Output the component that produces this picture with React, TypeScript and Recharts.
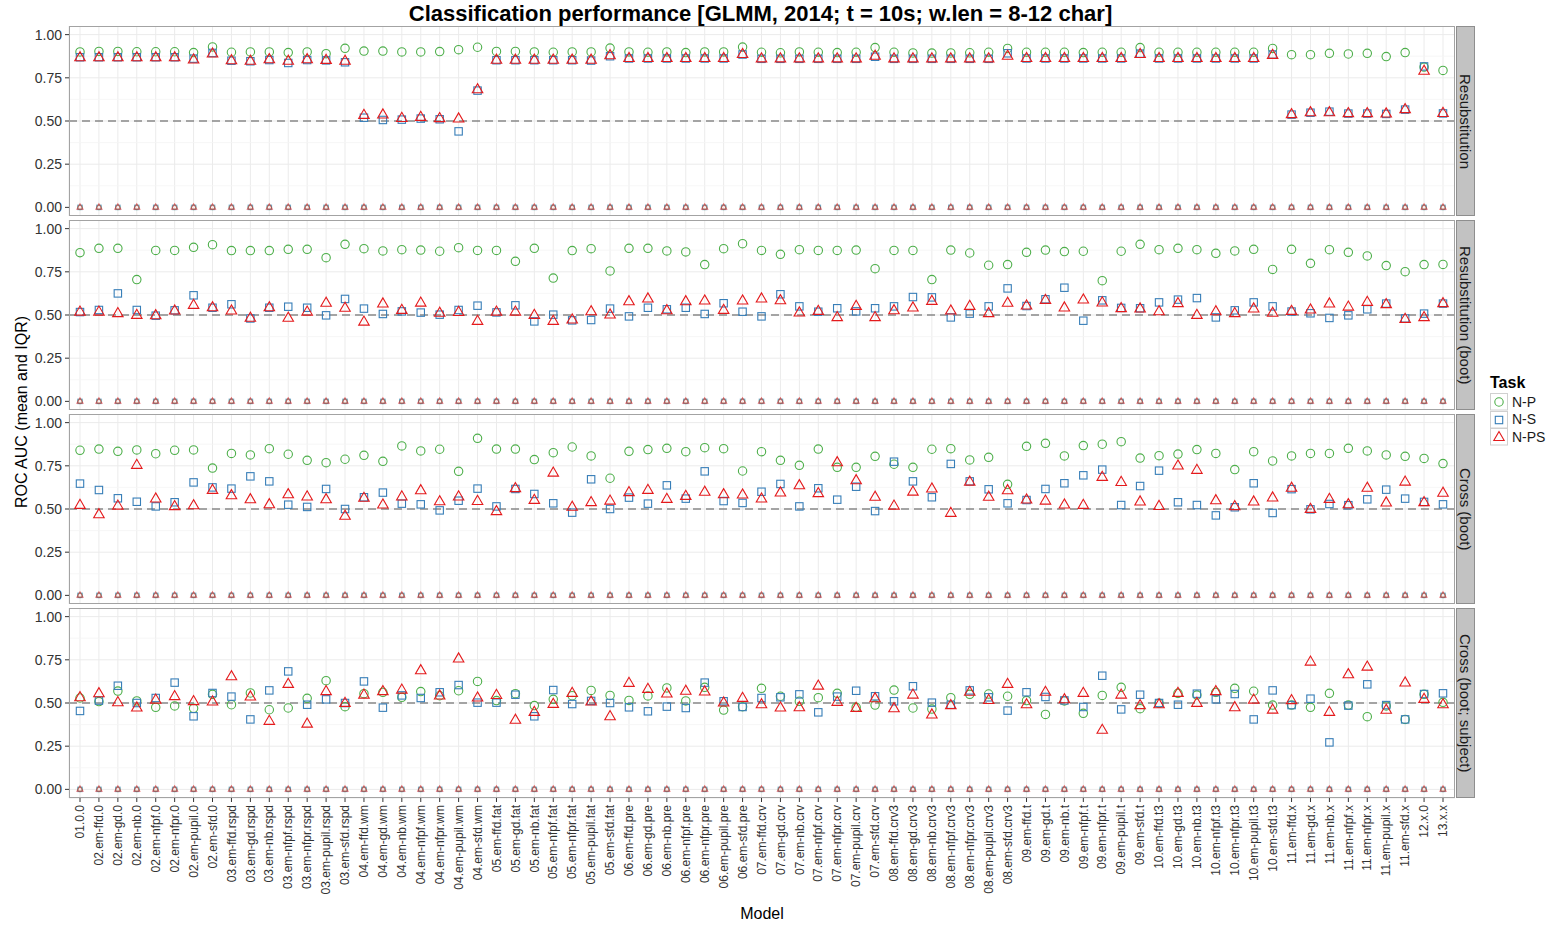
import { ComposedChart, Scatter, XAxis, YAxis, CartesianGrid, ReferenceLine } from "recharts";

const MODELS = [
  "01.0.0",
  "02.em-ffd.0", "02.em-gd.0", "02.em-nb.0", "02.em-nfpf.0", "02.em-nfpr.0", "02.em-pupil.0", "02.em-sfd.0",
  "03.em-ffd.rspd", "03.em-gd.rspd", "03.em-nb.rspd", "03.em-nfpf.rspd", "03.em-nfpr.rspd", "03.em-pupil.rspd", "03.em-sfd.rspd",
  "04.em-ffd.wm", "04.em-gd.wm", "04.em-nb.wm", "04.em-nfpf.wm", "04.em-nfpr.wm", "04.em-pupil.wm", "04.em-sfd.wm",
  "05.em-ffd.fat", "05.em-gd.fat", "05.em-nb.fat", "05.em-nfpf.fat", "05.em-nfpr.fat", "05.em-pupil.fat", "05.em-sfd.fat",
  "06.em-ffd.pre", "06.em-gd.pre", "06.em-nb.pre", "06.em-nfpf.pre", "06.em-nfpr.pre", "06.em-pupil.pre", "06.em-sfd.pre",
  "07.em-ffd.crv", "07.em-gd.crv", "07.em-nb.crv", "07.em-nfpf.crv", "07.em-nfpr.crv", "07.em-pupil.crv", "07.em-sfd.crv",
  "08.em-ffd.crv3", "08.em-gd.crv3", "08.em-nb.crv3", "08.em-nfpf.crv3", "08.em-nfpr.crv3", "08.em-pupil.crv3", "08.em-sfd.crv3",
  "09.em-ffd.t", "09.em-gd.t", "09.em-nb.t", "09.em-nfpf.t", "09.em-nfpr.t", "09.em-pupil.t", "09.em-sfd.t",
  "10.em-ffd.t3", "10.em-gd.t3", "10.em-nb.t3", "10.em-nfpf.t3", "10.em-nfpr.t3", "10.em-pupil.t3", "10.em-sfd.t3",
  "11.em-ffd.x", "11.em-gd.x", "11.em-nb.x", "11.em-nfpf.x", "11.em-nfpr.x", "11.em-pupil.x", "11.em-sfd.x",
  "12.x.0", "13.x.x",
];

// IQR markers all sit at zero
const IQR = [
  0, 0, 0, 0, 0, 0, 0, 0, 0, 0, 0, 0, 0, 0, 0, 0, 0, 0, 0, 0, 0, 0, 0, 0, 0, 0, 0, 0, 0, 0, 0, 0, 0, 0, 0, 0, 0,
  0, 0, 0, 0, 0, 0, 0, 0, 0, 0, 0, 0, 0, 0, 0, 0, 0, 0, 0, 0, 0, 0, 0, 0, 0, 0, 0, 0, 0, 0, 0, 0, 0, 0, 0, 0,
];

const RESUB_NP = [
  0.900, 0.903, 0.903, 0.901, 0.901, 0.901, 0.896, 0.929, 0.898, 0.900,
  0.900, 0.896, 0.900, 0.890, 0.921, 0.905, 0.905, 0.900, 0.900, 0.902,
  0.913, 0.927, 0.903, 0.903, 0.900, 0.898, 0.900, 0.900, 0.922, 0.900,
  0.898, 0.900, 0.896, 0.900, 0.900, 0.928, 0.898, 0.895, 0.900, 0.898,
  0.896, 0.898, 0.925, 0.898, 0.894, 0.893, 0.894, 0.895, 0.898, 0.920,
  0.898, 0.898, 0.898, 0.896, 0.898, 0.898, 0.925, 0.898, 0.898, 0.898,
  0.898, 0.898, 0.898, 0.920, 0.884, 0.884, 0.892, 0.888, 0.892, 0.873,
  0.896, 0.812, 0.793,
];
const RESUB_NS = [
  0.869, 0.869, 0.869, 0.869, 0.869, 0.869, 0.861, 0.894, 0.849, 0.846,
  0.853, 0.836, 0.853, 0.851, 0.840, 0.519, 0.506, 0.508, 0.514, 0.510,
  0.440, 0.676, 0.852, 0.852, 0.852, 0.852, 0.852, 0.850, 0.875, 0.862,
  0.862, 0.862, 0.862, 0.862, 0.862, 0.885, 0.860, 0.860, 0.860, 0.860,
  0.860, 0.860, 0.872, 0.860, 0.860, 0.860, 0.860, 0.860, 0.860, 0.892,
  0.862, 0.862, 0.862, 0.862, 0.862, 0.862, 0.890, 0.862, 0.862, 0.862,
  0.862, 0.862, 0.862, 0.885, 0.537, 0.548, 0.554, 0.543, 0.543, 0.541,
  0.566, 0.816, 0.544,
];
const RESUB_NPS = [
  0.866, 0.866, 0.866, 0.866, 0.866, 0.866, 0.853, 0.888, 0.849, 0.846,
  0.855, 0.846, 0.855, 0.851, 0.846, 0.533, 0.535, 0.515, 0.521, 0.514,
  0.512, 0.681, 0.852, 0.852, 0.852, 0.852, 0.852, 0.852, 0.878, 0.862,
  0.862, 0.862, 0.862, 0.862, 0.862, 0.885, 0.860, 0.860, 0.860, 0.860,
  0.860, 0.860, 0.875, 0.860, 0.860, 0.860, 0.860, 0.860, 0.860, 0.875,
  0.862, 0.862, 0.862, 0.862, 0.862, 0.862, 0.885, 0.862, 0.862, 0.862,
  0.862, 0.862, 0.862, 0.880, 0.537, 0.548, 0.548, 0.543, 0.543, 0.541,
  0.566, 0.788, 0.544,
];

const BOOT_NP = [
  0.861, 0.886, 0.886, 0.705, 0.874, 0.874, 0.892, 0.907, 0.873, 0.873,
  0.873, 0.880, 0.880, 0.832, 0.909, 0.884, 0.871, 0.878, 0.876, 0.869,
  0.890, 0.874, 0.874, 0.811, 0.886, 0.714, 0.873, 0.884, 0.755, 0.886,
  0.886, 0.871, 0.865, 0.792, 0.884, 0.913, 0.874, 0.851, 0.878, 0.874,
  0.874, 0.876, 0.768, 0.874, 0.874, 0.705, 0.876, 0.859, 0.788, 0.792,
  0.863, 0.876, 0.867, 0.869, 0.699, 0.869, 0.909, 0.878, 0.886, 0.878,
  0.857, 0.871, 0.880, 0.764, 0.880, 0.799, 0.878, 0.863, 0.842, 0.786,
  0.751, 0.792, 0.793,
];
const BOOT_NS = [
  0.517, 0.529, 0.625, 0.529, 0.496, 0.527, 0.614, 0.542, 0.562, 0.480,
  0.542, 0.548, 0.542, 0.498, 0.593, 0.537, 0.506, 0.521, 0.514, 0.502,
  0.529, 0.554, 0.515, 0.556, 0.463, 0.502, 0.469, 0.471, 0.537, 0.492,
  0.542, 0.533, 0.542, 0.506, 0.568, 0.519, 0.492, 0.620, 0.550, 0.519,
  0.539, 0.521, 0.539, 0.550, 0.604, 0.602, 0.486, 0.508, 0.550, 0.654,
  0.552, 0.591, 0.658, 0.467, 0.585, 0.541, 0.539, 0.573, 0.589, 0.598,
  0.486, 0.527, 0.573, 0.550, 0.520, 0.510, 0.483, 0.498, 0.533, 0.566,
  0.480, 0.508, 0.566,
];
const BOOT_NPS = [
  0.517, 0.517, 0.508, 0.498, 0.496, 0.523, 0.556, 0.542, 0.523, 0.481,
  0.542, 0.481, 0.517, 0.568, 0.539, 0.459, 0.564, 0.527, 0.569, 0.510,
  0.515, 0.463, 0.517, 0.517, 0.498, 0.463, 0.471, 0.519, 0.500, 0.577,
  0.593, 0.525, 0.577, 0.581, 0.527, 0.581, 0.593, 0.583, 0.512, 0.521,
  0.485, 0.550, 0.485, 0.525, 0.541, 0.579, 0.523, 0.550, 0.508, 0.568,
  0.552, 0.585, 0.541, 0.587, 0.570, 0.537, 0.535, 0.519, 0.566, 0.498,
  0.519, 0.508, 0.535, 0.510, 0.521, 0.529, 0.564, 0.546, 0.573, 0.560,
  0.475, 0.485, 0.566,
];

const CROSS_NP = [
  0.840, 0.847, 0.834, 0.842, 0.820, 0.840, 0.842, 0.737, 0.822, 0.813,
  0.849, 0.817, 0.782, 0.768, 0.788, 0.811, 0.776, 0.865, 0.836, 0.846,
  0.718, 0.909, 0.847, 0.847, 0.786, 0.826, 0.859, 0.807, 0.678, 0.834,
  0.844, 0.851, 0.832, 0.855, 0.849, 0.720, 0.832, 0.782, 0.753, 0.847,
  0.741, 0.741, 0.805, 0.759, 0.741, 0.846, 0.849, 0.784, 0.799, 0.643,
  0.863, 0.880, 0.807, 0.867, 0.875, 0.890, 0.795, 0.809, 0.818, 0.844,
  0.822, 0.728, 0.832, 0.778, 0.807, 0.822, 0.822, 0.851, 0.836, 0.813,
  0.805, 0.793, 0.763,
];
const CROSS_NS = [
  0.647, 0.610, 0.562, 0.542, 0.515, 0.539, 0.654, 0.625, 0.618, 0.689,
  0.660, 0.525, 0.512, 0.616, 0.500, 0.568, 0.595, 0.531, 0.527, 0.492,
  0.548, 0.618, 0.515, 0.616, 0.587, 0.533, 0.479, 0.672, 0.500, 0.566,
  0.531, 0.637, 0.560, 0.718, 0.546, 0.535, 0.600, 0.645, 0.515, 0.620,
  0.554, 0.629, 0.488, 0.774, 0.660, 0.568, 0.761, 0.660, 0.614, 0.533,
  0.552, 0.616, 0.649, 0.695, 0.728, 0.523, 0.633, 0.722, 0.539, 0.523,
  0.463, 0.510, 0.649, 0.477, 0.615, 0.498, 0.529, 0.522, 0.556, 0.612,
  0.560, 0.541, 0.527,
];
const CROSS_NPS = [
  0.521, 0.467, 0.517, 0.753, 0.558, 0.514, 0.519, 0.608, 0.577, 0.554,
  0.525, 0.583, 0.570, 0.554, 0.458, 0.562, 0.523, 0.570, 0.606, 0.542,
  0.570, 0.544, 0.485, 0.618, 0.550, 0.708, 0.510, 0.537, 0.546, 0.595,
  0.608, 0.556, 0.573, 0.597, 0.583, 0.581, 0.558, 0.593, 0.635, 0.589,
  0.768, 0.664, 0.568, 0.517, 0.598, 0.616, 0.475, 0.656, 0.568, 0.606,
  0.552, 0.546, 0.523, 0.521, 0.683, 0.654, 0.541, 0.515, 0.749, 0.724,
  0.548, 0.514, 0.541, 0.564, 0.620, 0.498, 0.556, 0.525, 0.620, 0.535,
  0.656, 0.537, 0.591,
];

const SUBJ_NP = [
  0.529, 0.508, 0.569, 0.512, 0.475, 0.483, 0.469, 0.550, 0.490, 0.558,
  0.461, 0.471, 0.527, 0.629, 0.479, 0.554, 0.562, 0.533, 0.566, 0.542,
  0.571, 0.625, 0.514, 0.554, 0.485, 0.521, 0.542, 0.573, 0.544, 0.515,
  0.541, 0.587, 0.512, 0.591, 0.459, 0.479, 0.585, 0.539, 0.510, 0.531,
  0.556, 0.475, 0.488, 0.575, 0.471, 0.465, 0.531, 0.550, 0.552, 0.539,
  0.514, 0.434, 0.512, 0.440, 0.544, 0.591, 0.467, 0.498, 0.556, 0.546,
  0.562, 0.585, 0.568, 0.488, 0.488, 0.475, 0.556, 0.488, 0.421, 0.483,
  0.405, 0.550, 0.504,
];
const SUBJ_NS = [
  0.454, 0.514, 0.600, 0.500, 0.529, 0.618, 0.423, 0.558, 0.537, 0.405,
  0.573, 0.683, 0.490, 0.521, 0.500, 0.625, 0.473, 0.544, 0.529, 0.562,
  0.604, 0.502, 0.502, 0.548, 0.423, 0.575, 0.494, 0.512, 0.500, 0.475,
  0.452, 0.479, 0.471, 0.618, 0.510, 0.477, 0.529, 0.533, 0.550, 0.446,
  0.537, 0.571, 0.539, 0.510, 0.597, 0.502, 0.490, 0.573, 0.533, 0.456,
  0.562, 0.535, 0.515, 0.477, 0.658, 0.463, 0.548, 0.500, 0.490, 0.554,
  0.521, 0.552, 0.405, 0.573, 0.488, 0.525, 0.272, 0.485, 0.608, 0.488,
  0.405, 0.552, 0.556,
];
const SUBJ_NPS = [
  0.531, 0.554, 0.502, 0.471, 0.517, 0.537, 0.508, 0.506, 0.652, 0.535,
  0.394, 0.608, 0.378, 0.566, 0.498, 0.546, 0.566, 0.575, 0.687, 0.541,
  0.755, 0.529, 0.544, 0.400, 0.446, 0.492, 0.556, 0.506, 0.421, 0.614,
  0.579, 0.552, 0.568, 0.564, 0.500, 0.527, 0.490, 0.471, 0.473, 0.598,
  0.504, 0.469, 0.525, 0.467, 0.546, 0.431, 0.485, 0.562, 0.515, 0.608,
  0.490, 0.562, 0.519, 0.556, 0.342, 0.546, 0.485, 0.490, 0.556, 0.498,
  0.566, 0.473, 0.517, 0.459, 0.514, 0.737, 0.446, 0.664, 0.708, 0.458,
  0.616, 0.521, 0.490,
];

const Y_TICKS = [0, 0.25, 0.5, 0.75, 1];
const Y_MINOR = [0.125, 0.375, 0.625, 0.875];

const GREEN = "#4DAF4A";
const BLUE = "#377EB8";
const RED = "#E41A1C";
const FONT = "'Liberation Sans', Arial, Helvetica, sans-serif";

const PANELS = [
  { label: "Resubstitution", np: RESUB_NP, ns: RESUB_NS, nps: RESUB_NPS },
  { label: "Resubstitution (boot)", np: BOOT_NP, ns: BOOT_NS, nps: BOOT_NPS },
  { label: "Cross (boot)", np: CROSS_NP, ns: CROSS_NS, nps: CROSS_NPS },
  { label: "Cross (boot; subject)", np: SUBJ_NP, ns: SUBJ_NS, nps: SUBJ_NPS },
];

// layout (px)
const PLOT_LEFT = 69;
const PLOT_RIGHT = 1455;
const PANEL_H = 190;
const PANEL_TOP0 = 26.4;
const PANEL_STEP = 194;
const XAXIS_H = 112;

const circle = (color: string, r: number, op = 1) => (p: any) => (
  <circle cx={p.cx} cy={p.cy} r={r} fill="none" stroke={color} strokeWidth={1.1} strokeOpacity={op} />
);
const square = (color: string, s: number, op = 1) => (p: any) => (
  <rect x={p.cx - s / 2} y={p.cy - s / 2} width={s} height={s} fill="none" stroke={color} strokeWidth={1.1} strokeOpacity={op} />
);
const triangle = (color: string, w: number, op = 1) => (p: any) => {
  const h = w * 0.866;
  const d = `M${p.cx},${p.cy - (2 * h) / 3} L${p.cx - w / 2},${p.cy + h / 3} L${p.cx + w / 2},${p.cy + h / 3} Z`;
  return <path d={d} fill="none" stroke={color} strokeWidth={1.1} strokeOpacity={op} />;
};

const ModelTick = (props: any) => {
  const { x, y, payload } = props;
  return (
    <text
      x={x}
      y={y}
      transform={`rotate(-90 ${x} ${y})`}
      textAnchor="end"
      dy="0.35em"
      fontSize={12}
      fontFamily={FONT}
      fill="#333"
    >
      {payload.value}
    </text>
  );
};

function Panel({ index }: { index: number }) {
  const p = PANELS[index];
  const bottom = index === PANELS.length - 1;
  const top = PANEL_TOP0 + PANEL_STEP * index;
  const rows = MODELS.map((m, i) => ({ model: m, np: p.np[i], ns: p.ns[i], nps: p.nps[i], iqr: IQR[i] }));
  return (
    <>
      <div style={{ position: "absolute", left: 0, top }}>
        <ComposedChart
          width={PLOT_RIGHT}
          height={PANEL_H + (bottom ? XAXIS_H : 0)}
          data={rows}
          margin={{ top: 0, right: 0, bottom: 0, left: 0 }}
        >
          <CartesianGrid stroke="#EBEBEB" strokeWidth={1} />
          {Y_MINOR.map((v) => (
            <ReferenceLine key={v} y={v} stroke="#F5F5F5" strokeWidth={0.8} />
          ))}
          <XAxis
            dataKey="model"
            type="category"
            interval={0}
            padding={{ left: 11, right: 12 }}
            hide={!bottom}
            height={bottom ? XAXIS_H : 0}
            axisLine={false}
            tickLine={{ stroke: "#333" }}
            tickSize={4}
            tickMargin={3}
            tick={<ModelTick />}
          />
          <YAxis
            type="number"
            domain={[-0.05, 1.05]}
            allowDataOverflow
            ticks={Y_TICKS}
            width={PLOT_LEFT}
            axisLine={false}
            tickLine={{ stroke: "#333" }}
            tickSize={4}
            tickMargin={3}
            tickFormatter={(v: number) => v.toFixed(2)}
            tick={{ fontSize: 14, fill: "#333", fontFamily: FONT }}
          />
          <ReferenceLine y={0.5} stroke="#555" strokeWidth={1.2} strokeDasharray="8 5" />
          <Scatter dataKey="iqr" isAnimationActive={false} shape={circle(GREEN, 2.3, 0.6)} />
          <Scatter dataKey="iqr" isAnimationActive={false} shape={square(BLUE, 4.5, 0.6)} />
          <Scatter dataKey="iqr" isAnimationActive={false} shape={triangle(RED, 6, 0.6)} />
          <Scatter dataKey="np" isAnimationActive={false} shape={circle(GREEN, 4.2)} />
          <Scatter dataKey="ns" isAnimationActive={false} shape={square(BLUE, 7.4)} />
          <Scatter dataKey="nps" isAnimationActive={false} shape={triangle(RED, 10.5)} />
        </ComposedChart>
      </div>
      <div
        style={{
          position: "absolute",
          left: PLOT_LEFT,
          top,
          width: PLOT_RIGHT - PLOT_LEFT,
          height: PANEL_H,
          boxSizing: "border-box",
          border: "1px solid #A3A3A3",
          pointerEvents: "none",
        }}
      />
      <div
        style={{
          position: "absolute",
          left: PLOT_RIGHT + 1,
          top,
          width: 19,
          height: PANEL_H,
          boxSizing: "border-box",
          background: "#C2C2C2",
          border: "1px solid #8E8E8E",
          display: "flex",
          alignItems: "center",
          justifyContent: "center",
          writingMode: "vertical-rl",
          fontSize: 15,
          color: "#1A1A1A",
          fontFamily: FONT,
          whiteSpace: "nowrap",
        }}
      >
        {p.label}
      </div>
    </>
  );
}

const LEGEND = [
  { name: "N-P", shape: "circle", color: GREEN },
  { name: "N-S", shape: "square", color: BLUE },
  { name: "N-PS", shape: "triangle", color: RED },
];

function Legend() {
  return (
    <div style={{ position: "absolute", left: 1490, top: 374, fontFamily: FONT }}>
      <div style={{ fontWeight: "bold", fontSize: 16, color: "#000", marginBottom: 1 }}>Task</div>
      {LEGEND.map((l) => (
        <div key={l.name} style={{ display: "flex", alignItems: "center", height: 17.5 }}>
          <svg width={18} height={17.5} style={{ display: "block" }}>
            <rect x={0.5} y={0.5} width={17} height={16.5} fill="#fff" stroke="#D0D0D0" />
            {l.shape === "circle" && <circle cx={9} cy={9} r={4.2} fill="none" stroke={l.color} strokeWidth={1.1} />}
            {l.shape === "square" && <rect x={5.3} y={5.3} width={7.4} height={7.4} fill="none" stroke={l.color} strokeWidth={1.1} />}
            {l.shape === "triangle" && (
              <path d="M9,3.5 L3.8,12.5 L14.2,12.5 Z" fill="none" stroke={l.color} strokeWidth={1.1} />
            )}
          </svg>
          <span style={{ fontSize: 14, marginLeft: 4, color: "#1A1A1A" }}>{l.name}</span>
        </div>
      ))}
    </div>
  );
}

export default function App() {
  return (
    <div style={{ position: "absolute", left: 0, top: 0, width: 1552, height: 925, background: "#fff", fontFamily: FONT }}>
      <div
        style={{
          position: "absolute",
          left: 0,
          top: 1,
          width: 1521,
          textAlign: "center",
          fontWeight: "bold",
          fontSize: 22,
          color: "#000",
        }}
      >
        Classification performance [GLMM, 2014; t = 10s; w.len = 8-12 char]
      </div>
      <div
        style={{
          position: "absolute",
          left: 22,
          top: 412,
          transform: "translate(-50%, -50%) rotate(-90deg)",
          fontSize: 16,
          whiteSpace: "nowrap",
          color: "#000",
        }}
      >
        ROC AUC (mean and IQR)
      </div>
      {PANELS.map((_, i) => (
        <Panel key={i} index={i} />
      ))}
      <div
        style={{
          position: "absolute",
          left: 0,
          top: 905,
          width: 1524,
          textAlign: "center",
          fontSize: 16,
          color: "#000",
        }}
      >
        Model
      </div>
      <Legend />
    </div>
  );
}
